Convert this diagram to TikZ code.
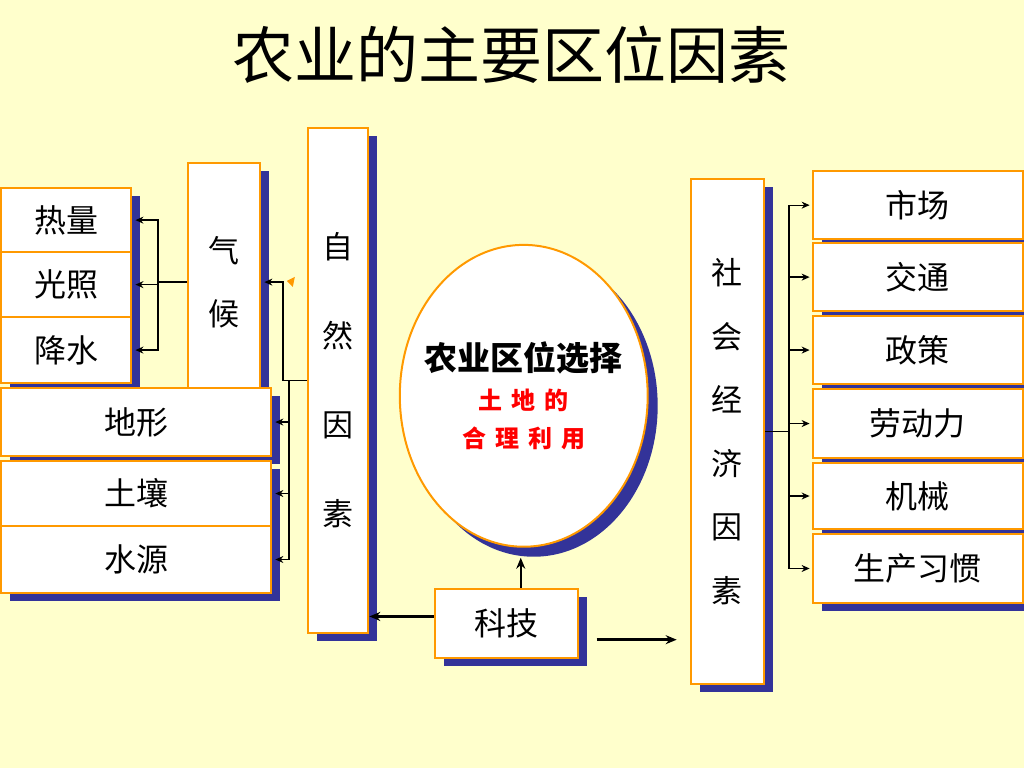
\documentclass[tikz,border=0pt]{standalone}
\usepackage{fontspec}
\setmainfont{Noto Sans CJK SC}
\usetikzlibrary{shapes.geometric,shadows,arrows.meta}
\definecolor{paper}{HTML}{FFFFCC}
\definecolor{frame}{HTML}{FF9900}
\definecolor{deepblue}{HTML}{333399}
\newcommand{\gap}{\hspace{9pt}}
\begin{document}
\begin{tikzpicture}[x=1pt,y=-1pt,
                    box/.style = {draw=frame,line width=2.5pt,fill=white,inner sep=0pt,anchor=north west,
                                  drop shadow={shadow xshift=9pt,shadow yshift=-8pt,fill=deepblue,opacity=1},
                                  font=\fontsize{32}{32}\selectfont},
                    tall/.style = {box,align=center},
                    link/.style = {line width=1.3pt},
                    arrow/.style = {link,-{Stealth[length=8pt,width=7pt]}},
                    bigarrow/.style = {line width=2.4pt,-{Stealth[length=11pt,width=9pt]}}]
                    \fill[paper] (0,0) rectangle (1024,768);

                    % title
                    \node (title) at (512,55) {\fontsize{62}{62}\selectfont 农业的主要区位因素};

                    % natural factors
                    \node[tall,minimum width=60pt,minimum height=505pt,font=\fontsize{31}{89}\selectfont] (natural) at (307,127) {自\\然\\因\\素};
                    \node[tall,minimum width=72pt,minimum height=238pt,font=\fontsize{31}{63}\selectfont] (climate) at (187,162) {气\\候};
                    \node[box,minimum width=130pt,minimum height=64pt] (heat)  at (0,187) {热量};
                    \node[box,minimum width=130pt,minimum height=65pt] (light) at (0,251) {光照};
                    \node[box,minimum width=130pt,minimum height=66pt] (rain)  at (0,316) {降水};
                    \node[box,minimum width=270pt,minimum height=68pt] (terrain) at (0,387) {地形};
                    \node[box,minimum width=270pt,minimum height=65pt] (soil)    at (0,460) {土壤};
                    \node[box,minimum width=270pt,minimum height=67pt] (water)   at (0,525) {水源};

                    % centre
                    \node[draw=frame,line width=2pt,fill=white,ellipse,inner sep=-30pt,
                          minimum width=248pt,minimum height=302pt,align=center,
                          drop shadow={shadow xshift=10pt,shadow yshift=-10pt,fill=deepblue,opacity=1},
                          font=\fontsize{24}{39}\selectfont] (choice) at (524,396)
                          {{\fontsize{33}{39}\selectfont\bfseries 农业区位选择}\\
                           \textcolor{red}{\bfseries 土\gap 地\gap 的}\\
                           \textcolor{red}{\bfseries 合\gap 理\gap 利\gap 用}};
                    \node[box,minimum width=143pt,minimum height=69pt] (tech) at (434,588) {科技};

                    % social and economic factors
                    \node[tall,minimum width=73pt,minimum height=505pt,font=\fontsize{31}{63.5}\selectfont] (social) at (690,178) {社\\会\\经\\济\\因\\素};
                    \node[box,minimum width=210pt,minimum height=68pt] (market)  at (812,170) {市场};
                    \node[box,minimum width=210pt,minimum height=68pt] (traffic) at (812,242) {交通};
                    \node[box,minimum width=210pt,minimum height=68pt] (policy)  at (812,315) {政策};
                    \node[box,minimum width=210pt,minimum height=69pt] (labour)  at (812,388) {劳动力};
                    \node[box,minimum width=210pt,minimum height=66pt] (machine) at (812,462) {机械};
                    \node[box,minimum width=210pt,minimum height=69pt] (habit)   at (812,533) {生产习惯};

                    % climate
                    \draw[link] (climate.west) -- ++(-29,0);
                    \draw[arrow] ([xshift=-29pt]climate.west) |- ([xshift=3pt]heat.east);
                    \draw[arrow] ([xshift=-29pt]climate.west) |- ([xshift=3pt]light.east);
                    \draw[arrow] ([xshift=-29pt]climate.west) |- ([xshift=3pt]rain.east);

                    % natural
                    \draw[arrow] (natural.west) -- ++(-24,0) |- ([xshift=3pt]climate.east);
                    \draw[arrow] ([xshift=-18pt]natural.west) |- ([xshift=3pt]terrain.east);
                    \draw[arrow] ([xshift=-18pt]natural.west) |- ([xshift=3pt]soil.east);
                    \draw[arrow] ([xshift=-18pt]natural.west) |- ([xshift=3pt]water.east);
                    \fill[frame] (287,281) -- (295,277) -- (293,287) -- cycle;

                    % social
                    \draw[link] (social.east) -- ++(24,0);
                    \draw[arrow] ([xshift=24pt]social.east) |- ([xshift=-2pt]market.west);
                    \draw[arrow] ([xshift=24pt]social.east) |- ([xshift=-2pt]traffic.west);
                    \draw[arrow] ([xshift=24pt]social.east) |- ([xshift=-2pt]policy.west);
                    \draw[arrow] ([xshift=24pt]social.east) |- ([xshift=-2pt]labour.west);
                    \draw[arrow] ([xshift=24pt]social.east) |- ([xshift=-2pt]machine.west);
                    \draw[arrow] ([xshift=24pt]social.east) |- ([xshift=-2pt]habit.west);

                    % tech
                    \coordinate (tout) at (597,640);
                    \coordinate (tin)  at (677,640);
                    \draw[bigarrow] (tech.north -| 521,0) -- ([yshift=-10pt]choice.south -| 521,0);
                    \draw[bigarrow] ([yshift=7pt]tech.west) -- ([yshift=7pt]tech.west -| natural.east);
                    \draw[bigarrow] (tout) -- (tin);

                \end{tikzpicture}
\end{document}
